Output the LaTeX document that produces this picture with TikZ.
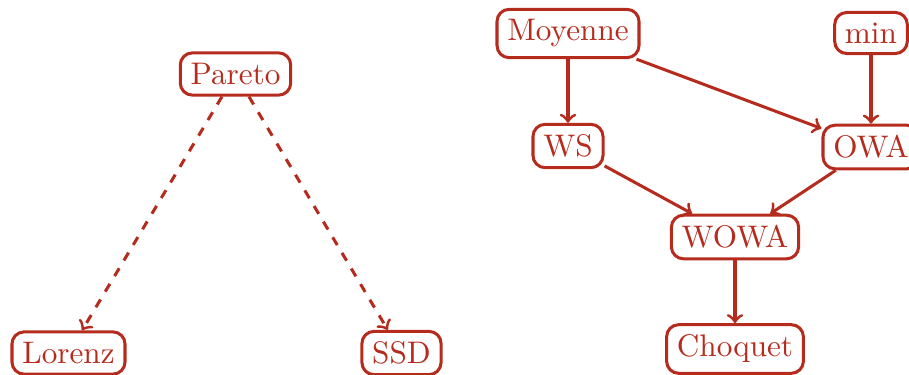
\documentclass[tikz,border=0pt]{standalone}
\definecolor{brick}{RGB}{181,44,30}
\begin{document}
\begin{tikzpicture}[x=0.33pt,y=-0.33pt,
  box/.style={draw=brick,text=brick,line width=1pt,rounded corners=4pt,inner sep=3.4pt,font=\fontsize{10.3}{12}\selectfont},
  arr/.style={draw=brick,line width=1pt,->},
  darr/.style={arr,dashed}]
\useasboundingbox (0,0) rectangle (909,374);
\clip (0,0) rectangle (909,374);
\node[box] (pareto) at (235.5,74) {Pareto};
\node[box] (lorenz) at (68.5,353) {Lorenz};
\node[box] (ssd) at (401.5,353) {SSD};
\node[box] (moy) at (568,33.5) {Moyenne};
\node[box] (min) at (871,33) {min};
\node[box] (ws) at (568,146) {WS};
\node[box] (owa) at (871,147) {OWA};
\node[box] (wowa) at (735,237) {WOWA};
\node[box] (choq) at (735,349) {Choquet};
\draw[darr] (pareto) -- (lorenz);
\draw[darr] (pareto) -- (ssd);
\draw[arr] (moy) -- (ws);
\draw[arr] (moy) -- (owa);
\draw[arr] (min) -- (owa);
\draw[arr] (ws) -- (wowa);
\draw[arr] (owa) -- (wowa);
\draw[arr] (wowa) -- (choq);
\end{tikzpicture}
\end{document}
